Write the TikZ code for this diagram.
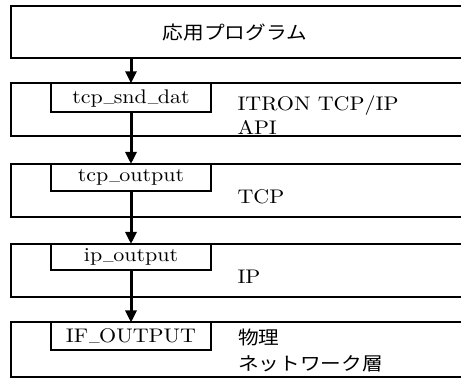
\documentclass[tikz,border=0pt]{standalone}
\usepackage{fontspec}
\usepackage{graphicx}
\newfontfamily\jpfont{Noto Sans CJK JP}
\usetikzlibrary{arrows.meta}
\newcommand\stx[1]{\scalebox{2.2}[1.97]{#1}}
\newcommand\us{\kern.04em\raisebox{1.1pt}{\scalebox{0.64}[1]{\_}}\kern-.02em}
\begin{document}
\begin{tikzpicture}[x=1pt,y=-1pt,
  layer/.style={draw, line width=2pt, outer sep=0pt, inner sep=0pt, anchor=north west, minimum width=454pt},
  fnbox/.style={draw, line width=2pt, outer sep=0pt, inner sep=0pt, anchor=north west, minimum width=160pt},
  flow/.style={line width=3pt, -{Triangle[width=11pt,length=12pt]}},
  lbl/.style={inner sep=0pt, outer sep=0pt}]
\useasboundingbox (0,0) rectangle (461,379);
\clip (0,0) rectangle (461,379);
% layers
\node[layer, minimum height=52.3pt] (b1) at (11,6) {};
\node[layer, minimum height=53.2pt] (b2) at (11,83.3) {};
\node[layer, minimum height=53.5pt] (b3) at (11,164) {};
\node[layer, minimum height=53pt]   (b4) at (11,244) {};
\node[layer, minimum height=54.5pt] (b5) at (11,322.5) {};
% function boxes
\node[fnbox, minimum height=28.4pt] (i2) at (51,83.3) {};
\node[fnbox, minimum height=26.7pt] (i3) at (51,164) {};
\node[fnbox, minimum height=26.3pt] (i4) at (51,244) {};
\node[fnbox, minimum height=28pt]   (i5) at (51,322.5) {};
% arrows
\draw[flow] (b1.south -| i2.north) -- (i2.north);
\draw[flow] (i2.south) -- (i2.south |- b3.north);
\draw[flow] (i3.south) -- (i3.south |- b4.north);
\draw[flow] (i4.south) -- (i4.south |- b5.north);
% texts
\node[lbl] (title) at (235,32.5) {\stx{\jpfont\fontsize{9.4}{12}\selectfont 応用プログラム}};
\node[lbl, anchor=base] (f2) at (131,104) {\stx{tcp\us snd\us dat}};
\node[lbl, anchor=base] (f3) at (131,182) {\stx{tcp\us output}};
\node[lbl, anchor=base] (f4) at (131,262) {\stx{ip\us output}};
\node[lbl, anchor=base] (f5) at (131,343) {\stx{IF\us OUTPUT}};
\node[lbl, anchor=base west] (l2) at (237.5,110.7) {\stx{\begin{tabular}[t]{@{}l@{}}ITRON TCP/IP\\API\end{tabular}}};
\node[lbl, anchor=base west] (l3) at (237.5,203.3) {\stx{TCP}};
\node[lbl, anchor=base west] (l4) at (237.5,283.3) {\stx{IP}};
\node[lbl, anchor=base west] (l5) at (238,344.5) {\stx{\jpfont\fontsize{9.4}{13.2}\selectfont\begin{tabular}[t]{@{}l@{}}物理\\ネットワーク層\end{tabular}}};
\end{tikzpicture}
\end{document}
